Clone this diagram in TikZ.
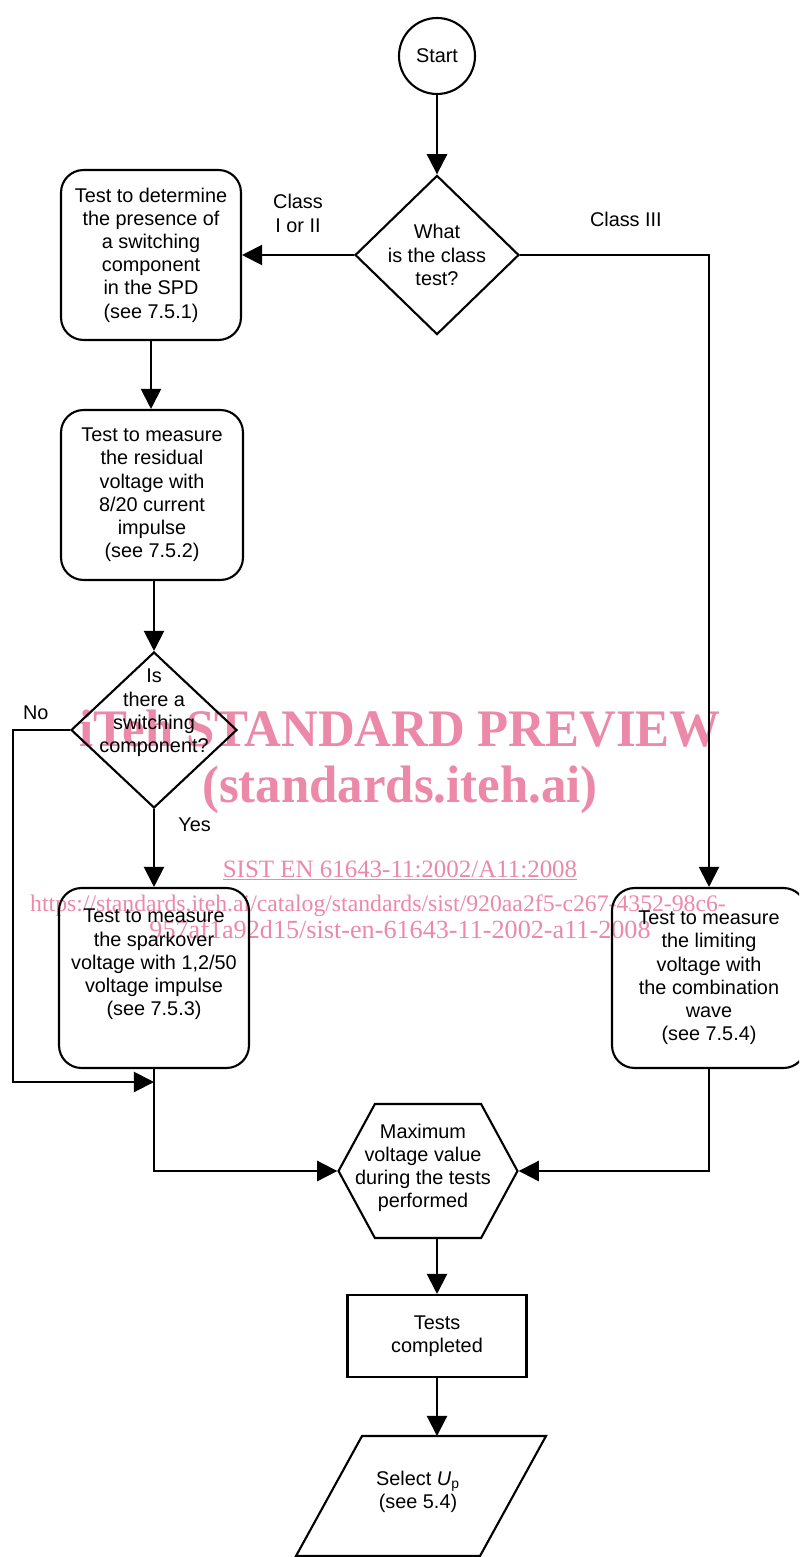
\documentclass[tikz,border=0pt]{standalone}
\usepackage{fontspec}
\setmainfont{Liberation Sans}
\newfontfamily\wmfont{Liberation Serif}
\usetikzlibrary{arrows.meta,shapes.geometric,shapes.symbols}
\definecolor{wmpink}{RGB}{236,136,168}

\begin{document}
\begin{tikzpicture}
[x=0.02cm, y=-0.02cm, line width=1.2pt,
 font=\fontsize{11.3}{13.2}\selectfont,
 flow/.style={-{Triangle[length=11.5pt,width=11.5pt]}},
 testbox/.style={draw, rounded corners=0.45cm, align=center, inner sep=0pt},
 decision/.style={draw, diamond, inner sep=0pt, align=center},
 wm/.style={text=wmpink, inner sep=0pt}]

\useasboundingbox (0,0) rectangle (799,1557);
\clip (0,0) rectangle (799,1557);

% watermark, behind the chart
\node[wm, font=\wmfont\bfseries\fontsize{30}{30}\selectfont] (wmtitle) at (400,729)
	{\scalebox{0.965}[1]{iTeh STANDARD PREVIEW}};
\node[wm, font=\wmfont\bfseries\fontsize{30}{30}\selectfont] (wmsite) at (400,790)
	{\scalebox{0.965}[1]{(standards.iteh.ai)}};
\node[wm, anchor=base, font=\wmfont\fontsize{14.2}{14.2}\selectfont] (wmstd) at (400,877)
	{\underline{SIST EN 61643-11:2002/A11:2008}};
\node[wm, anchor=base, font=\wmfont\fontsize{13.5}{13.5}\selectfont] (wmurl) at (378,911)
	{https://standards.iteh.ai/catalog/standards/sist/920aa2f5-c267-4352-98c6-};
\node[wm, anchor=base, font=\wmfont\fontsize{14.9}{14.9}\selectfont] (wmurlb) at (400,938)
	{957af1a92d15/sist-en-61643-11-2002-a11-2008};

% chart
\node[draw, circle, minimum size=1.52cm, inner sep=0pt] (start) at (437,56) {Start};
\node[decision, minimum width=3.28cm, minimum height=3.16cm] (class) at (437,255)
	{What\\is the class\\test?};

\node[testbox, minimum width=3.6cm, minimum height=3.4cm] (det) at (151,255)
	{Test to determine\\the presence of\\a switching\\component\\in the SPD\\(see 7.5.1)};
\node[testbox, minimum width=3.64cm, minimum height=3.4cm] (resid) at (152,495)
	{Test to measure\\the residual\\voltage with\\8/20 current\\impulse\\(see 7.5.2)};

\node[decision, minimum width=3.32cm, minimum height=3.12cm] (switch) at (154,730) {};
\node[align=center] (switchtxt) at (154,713) {Is\\there a\\switching\\component?};

\node[testbox, minimum width=3.8cm, minimum height=3.6cm] (spark) at (154,978)
	{Test to measure\\the sparkover\\voltage with 1,2/50\\voltage impulse\\(see 7.5.3)\\[4.4pt]\mbox{}};
\node[testbox, minimum width=3.88cm, minimum height=3.6cm] (limit) at (709,978)
	{Test to measure\\the limiting\\voltage with\\the combination\\wave\\(see 7.5.4)};

\node[draw, signal, signal to=west and east, signal pointer angle=123,
	minimum width=3.58cm, minimum height=2.68cm, inner sep=0pt] (maxv) at (428,1171) {};
\node[align=center] (maxvtxt) at (423,1168) {Maximum\\voltage value\\during the tests\\performed};
\node[draw, minimum width=3.58cm, minimum height=1.64cm, align=center] (done) at (437,1336)
	{Tests\\completed};

% parallelogram drawn by hand, text node in it
\coordinate (seltl) at (362,1436);
\draw (seltl) -- (546,1436) -- (480,1556) -- (296,1556) -- cycle;
\node[align=center] (sel) at (418,1492) {Select \textit{U}\textsubscript{p}\\(see 5.4)};

\coordinate (noturn) at (13,730);
\coordinate (nojoin) at (154,1082);

\draw[flow] (start) -- (class);
\draw[flow] (class.west) -- node[above=9pt, align=center] {Class\\I or II} (det.east);
\draw[flow] (class.east) -| node[pos=0.28, above=12pt] {Class III} (limit.north);
\draw[flow] (det.south) -- (det.south |- resid.north);
\draw[flow] (switch.north |- resid.south) -- (switch.north);
\draw[flow] (switch.south) -- node[pos=0.2, right=10pt] {Yes} (spark.north);
\draw[flow] (switch.west) -- node[pos=0.6, above=2pt] {No} (noturn) |- (nojoin);
\draw[flow] (spark.south) |- (maxv.west);
\draw[flow] (limit.south) |- (maxv.east);
\draw[flow] (done.north |- maxv.south) -- (done.north);
\draw[flow] (done.south) -- (done.south |- seltl);
\end{tikzpicture}
\end{document}
